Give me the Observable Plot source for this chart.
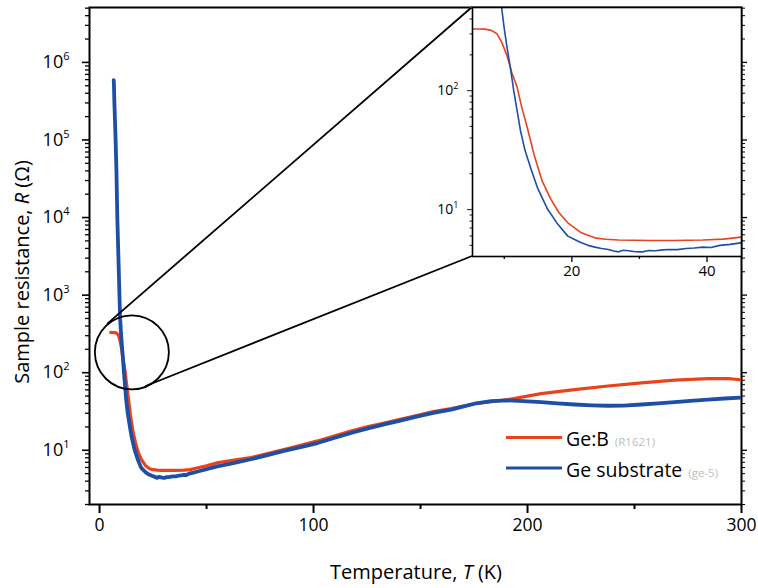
<!DOCTYPE html>
<html><head><meta charset="utf-8">
<script src="https://cdn.jsdelivr.net/npm/d3@7"></script>
<script src="https://cdn.jsdelivr.net/npm/@observablehq/plot@0.6"></script>
<style>
body{margin:0;background:#fff;font-family:"Open Sans",sans-serif;}
#wrap{position:relative;width:758px;height:588px;overflow:hidden;}
#wrap svg{position:absolute;left:0;top:0;}
</style></head><body><div id="wrap"></div>
<script>
// Ge:B sample (R1621)
const redT = [5.2, 6, 7.1, 8.1, 8.9, 9.6, 10.4, 11.1, 11.9, 12.6, 13.4, 14.4, 15.6, 16.9, 18.1, 19.4, 21.4, 23.4, 25, 26.9, 29, 31.9, 35, 39.4, 42.4, 45, 50, 55, 62, 70.7, 78, 86.2, 94, 101.9, 110, 117.5, 125, 133, 141, 148.7, 156, 164.3, 175.2, 190.8, 206.4, 222, 237.6, 253.2, 268.8, 284.4, 293.7, 300];
const redR = [330, 330, 329, 321, 301, 257, 197, 143, 107, 72, 49, 29, 17.4, 12.2, 9.4, 7.74, 6.37, 5.78, 5.62, 5.54, 5.52, 5.5, 5.5, 5.55, 5.64, 5.86, 6.3, 6.9, 7.4, 8.05, 9.0, 10.2, 11.6, 13.2, 15.4, 17.7, 20, 22.5, 25.3, 28.3, 31.5, 34.5, 39.8, 45, 53.7, 60.5, 67.4, 74, 80, 84, 84, 81];
// Ge substrate (ge-5)
const blueT = [6.6, 6.7, 6.9, 7.2, 7.5, 7.9, 8.3, 8.7, 9.1, 9.6, 9.97, 10.4, 10.9, 11.4, 11.9, 12.4, 13.1, 13.9, 14.9, 16.4, 17.9, 19.4, 20.4, 21.4, 22.4, 23.4, 24.4, 25.4, 26.2, 26.9, 27.6, 28.4, 29.4, 30.4, 31.4, 32.4, 33.4, 34.4, 35.6, 36.9, 38.1, 39.4, 40.6, 41.9, 43.4, 45, 50, 55, 62, 70.7, 78, 86.2, 94, 101.9, 110, 117.5, 125, 133, 141, 148.7, 156, 164.3, 175.2, 183, 190.8, 198, 206.4, 214, 222, 230, 237.6, 245, 253.2, 261, 268.8, 276, 284.4, 292, 300];
const blueR = [5.9e5, 5.5e5, 3.2e5, 1.8e5, 1.0e5, 3.8e4, 1.0e4, 4000, 1580, 505, 342, 232, 157, 100, 68, 46, 31, 22.5, 15.3, 10.1, 7.55, 5.98, 5.6, 5.25, 5.0, 4.83, 4.7, 4.62, 4.48, 4.41, 4.55, 4.5, 4.42, 4.41, 4.52, 4.5, 4.58, 4.62, 4.6, 4.7, 4.75, 4.83, 4.8, 5.0, 5.1, 5.25, 5.7, 6.2, 6.8, 7.66, 8.6, 9.8, 11.0, 12.4, 14.5, 16.7, 19, 21.6, 24.3, 27.4, 30.3, 33.4, 39.8, 43, 43.9, 43, 41.7, 40.2, 38.9, 38, 37.5, 37.6, 38.9, 40.2, 41.7, 43.3, 45, 46.5, 47.8];

const seriesNames = ["Ge:B", "Ge substrate"];
const seriesIds = ["(R1621)", "(ge-5)"];
const xMajor = [0, 100, 200, 300];
const xMinor = [50, 150, 250];
const yMajor = [1e1, 1e2, 1e3, 1e4, 1e5, 1e6];
const insetXMajor = [20, 40];
const insetXMinor = [10, 30];
const insetYMajor = [10, 100];
// zoom circle centre (data coords)
const zoomT = 15.1, zoomR = 183;

const RED = "#e8431c", BLUE = "#1d4fa6";
const red = redT.map((t, i) => ({T: t, R: redR[i]}));
const blue = blueT.map((t, i) => ({T: t, R: blueR[i]}));
function minorLog(lo, hi) {
  const out = [];
  for (let e = Math.floor(Math.log10(lo)); e <= Math.ceil(Math.log10(hi)); e++)
    for (let m = 2; m <= 9; m++) { const v = m * 10 ** e; if (v >= lo && v <= hi) out.push(v); }
  return out;
}
const fmtExp = d => String(Math.round(Math.log10(d)));

const W = 758, H = 588;
const mL = 89, mR = 17, mT = 7, mB = 84;
const yDom = [2.0, 5.1e6];
const main = Plot.plot({
  width: W, height: H, marginLeft: mL, marginRight: mR, marginTop: mT, marginBottom: mB,
  style: {fontFamily: "'Open Sans', sans-serif", fontSize: "17px", background: "white", overflow: "visible"},
  x: {domain: [-4.7, 300]},
  y: {type: "log", domain: yDom},
  marks: [
    Plot.axisX({ticks: xMajor, tickSize: 9, tickPadding: 5, fontSize: 17.5, strokeWidth: 2, label: null}),
    Plot.axisX({ticks: xMinor, tickSize: 5, strokeWidth: 2, tickFormat: () => "", label: null}),
    Plot.axisY({ticks: yMajor, tickSize: 7, tickPadding: 13, fontSize: 18, strokeWidth: 1.6, tickFormat: fmtExp, label: null}),
    Plot.axisY({ticks: minorLog(yDom[0], yDom[1]), tickSize: 4, strokeWidth: 1.3, tickFormat: () => "", label: null}),
    Plot.axisY({anchor: "right", ticks: yMajor, tickSize: 5, strokeWidth: 1.3, tickFormat: () => "", label: null}),
    Plot.axisY({anchor: "right", ticks: minorLog(yDom[0], yDom[1]), tickSize: 3, strokeWidth: 1, tickFormat: () => "", label: null}),
    Plot.frame({stroke: "black", strokeWidth: 2}),
    Plot.line(red, {x: "T", y: "R", stroke: RED, strokeWidth: 3.2, clip: true}),
    Plot.line(blue, {x: "T", y: "R", stroke: BLUE, strokeWidth: 3.8, clip: true}),
    Plot.dot([{T: zoomT, R: zoomR}], {x: "T", y: "R", r: 37, stroke: "black", strokeWidth: 1.8, fill: "none"})
  ]
});
const wrap = document.getElementById("wrap");
wrap.appendChild(main);

// inset layout
const inL = 472, inT = 7, inR = 741, inB = 256;
const iML = 45, iMT = 2, iMR = 4, iMB = 32;
const insetDomY = [4.03, 500];
const inset = Plot.plot({
  width: (inR - inL) + iML + iMR, height: (inB - inT) + iMT + iMB,
  marginLeft: iML, marginRight: iMR, marginTop: iMT, marginBottom: iMB,
  style: {fontFamily: "'Open Sans', sans-serif", fontSize: "14px", background: "transparent", overflow: "visible"},
  x: {domain: [5.3, 45.1]},
  y: {type: "log", domain: insetDomY},
  marks: [
    Plot.frame({fill: "white", stroke: "none"}),
    Plot.line(red, {x: "T", y: "R", stroke: RED, strokeWidth: 1.6, clip: true}),
    Plot.line(blue, {x: "T", y: "R", stroke: BLUE, strokeWidth: 1.6, clip: true}),
    Plot.axisX({ticks: insetXMajor, tickSize: 6, tickPadding: 3, fontSize: 15, strokeWidth: 1.3, label: null}),
    Plot.axisX({ticks: insetXMinor, tickSize: 3, strokeWidth: 1.3, tickFormat: () => "", label: null}),
    Plot.axisY({ticks: insetYMajor, tickSize: 5, tickPadding: 9, fontSize: 14, stroke: "#444", strokeWidth: 1.2, tickFormat: fmtExp, label: null}),
    Plot.axisY({ticks: minorLog(insetDomY[0], insetDomY[1]), tickSize: 2.5, stroke: "#444", strokeWidth: 1.2, tickFormat: () => "", label: null}),
    Plot.frame({stroke: "black", strokeWidth: 1.6})
  ]
});
inset.style.left = (inL - iML) + "px";
inset.style.top = (inT - iMT) + "px";
wrap.appendChild(inset);

// turn exponent tick labels into "10" + superscript
function powLabels(svgEl, supSize, rise) {
  d3.select(svgEl).selectAll('g[aria-label="y-axis tick label"] text').each(function () {
    const t = d3.select(this);
    const e = t.text().trim();
    if (!e) return;
    t.text(null);
    t.append("tspan").text("10");
    t.append("tspan").attr("font-size", supSize).attr("dy", -rise).text(e);
  });
}
powLabels(main, 11, 8);
powLabels(inset, 9, 6);

// connectors from zoom circle to inset corners
const svg = d3.select(main);
const sx = main.scale("x"), sy = main.scale("y");
const cx = sx.apply(zoomT), cy = sy.apply(zoomR), rr = 37;
function tangent(px, py, side) {
  const dx = px - cx, dy = py - cy, d = Math.hypot(dx, dy);
  const a = Math.atan2(dy, dx) + side * Math.acos(rr / d);
  return [cx + rr * Math.cos(a), cy + rr * Math.sin(a)];
}
[[inL, inT, -1], [inL, inB, 1]].forEach(([px, py, s]) => {
  const [tx, ty] = tangent(px, py, s);
  svg.append("line").attr("x1", tx).attr("y1", ty).attr("x2", px).attr("y2", py)
    .attr("stroke", "black").attr("stroke-width", 1.8);
});

// axis titles
const xt = svg.append("text").attr("x", 416).attr("y", 579).attr("text-anchor", "middle")
  .attr("font-size", 20).attr("fill", "black");
xt.append("tspan").text("Temperature, ");
xt.append("tspan").attr("font-style", "italic").text("T");
xt.append("tspan").text(" (K)");
const yt = svg.append("text").attr("transform", "translate(29,272) rotate(-90)").attr("text-anchor", "middle")
  .attr("font-size", 20).attr("fill", "black");
yt.append("tspan").text("Sample resistance, ");
yt.append("tspan").attr("font-style", "italic").text("R");
yt.append("tspan").text(" (Ω)");

// legend
[[RED, 437.5, 446], [BLUE, 468, 476.5]].forEach(([c, ly, by], i) => {
  svg.append("line").attr("x1", 506).attr("x2", 562).attr("y1", ly).attr("y2", ly)
    .attr("stroke", c).attr("stroke-width", 3.2);
  const t = svg.append("text").attr("x", 566).attr("y", by).attr("text-anchor", "start")
    .attr("font-size", 19.5).attr("fill", "black");
  t.append("tspan").text(seriesNames[i]);
  t.append("tspan").attr("font-size", 11.5).attr("fill", "#bdbdbd").attr("dx", 6).text(seriesIds[i]);
});
</script></body></html>
